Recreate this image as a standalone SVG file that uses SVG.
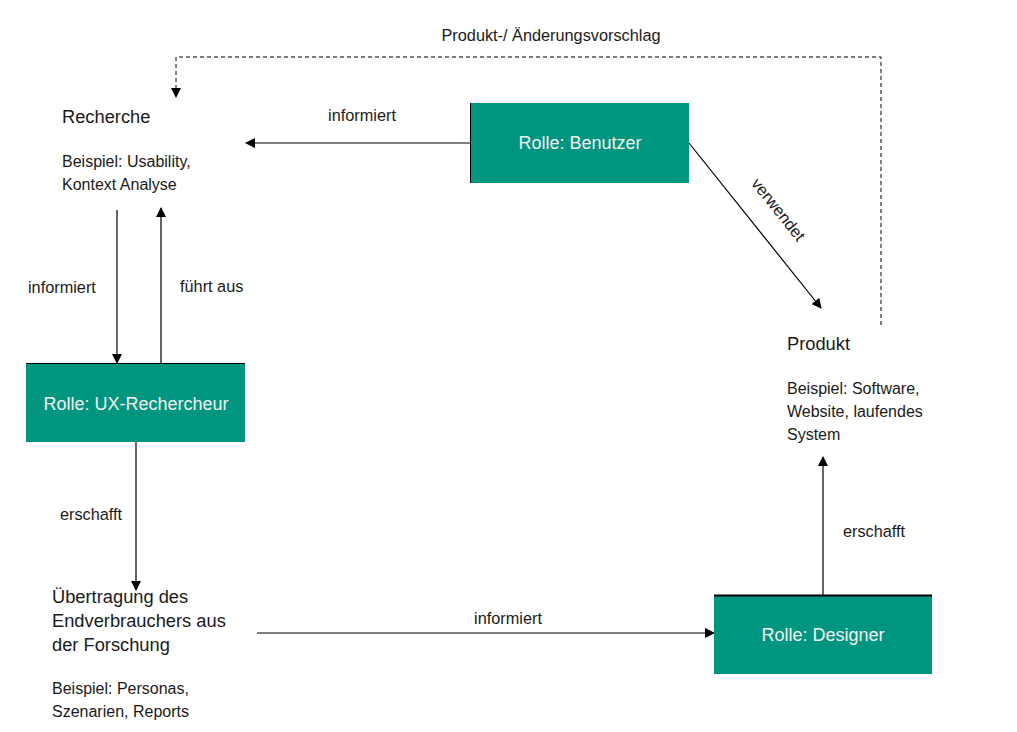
<svg xmlns="http://www.w3.org/2000/svg" width="1017" height="732" viewBox="0 0 1017 732">
<style>
text{font-family:"Liberation Sans",Arial,sans-serif;fill:#1a1a1a}
.t{font-size:18.3px}
.s{font-size:16px}
.l{font-size:16.3px}
.box{fill:#00957f}
.bt{font-size:18px;fill:#f2f2f2;text-anchor:middle}
.c{stroke:#000;stroke-width:1.2;fill:none}
.d{stroke:#000;stroke-width:1;fill:none;stroke-dasharray:4 3}
</style>
<defs>
<marker id="a" viewBox="0 0 10 10" refX="9" refY="5" markerWidth="10" markerHeight="10" markerUnits="userSpaceOnUse" orient="auto">
<path d="M0,0 L10,5 L0,10 Z" fill="#000"/>
</marker>
</defs>
<rect width="1017" height="732" fill="#fff"/>
<g id="connectors">
<path class="d" d="M881,325 V57 H176 V97" marker-end="url(#a)"/>
<text class="l" x="551" y="41" text-anchor="middle">Produkt-/ Änderungsvorschlag</text>
<path class="c" d="M470,143 H246" marker-end="url(#a)"/>
<text class="l" x="362" y="121" text-anchor="middle">informiert</text>
<path class="c" d="M689,143 L821,308" marker-end="url(#a)"/>
<text class="l" x="0" y="0" text-anchor="middle" transform="translate(774,213) rotate(51.3)">verwendet</text>
<path class="c" d="M117,210 V363" marker-end="url(#a)"/>
<text class="l" x="28" y="293">informiert</text>
<path class="c" d="M161,363 V208" marker-end="url(#a)"/>
<text class="l" x="180" y="292">führt aus</text>
<path class="c" d="M136,442 V590" marker-end="url(#a)"/>
<text class="l" x="60" y="520">erschafft</text>
<path class="c" d="M257,633 H714" marker-end="url(#a)"/>
<text class="l" x="508" y="624" text-anchor="middle">informiert</text>
<path class="c" d="M823,595 V457" marker-end="url(#a)"/>
<text class="l" x="843" y="537">erschafft</text>
</g>
<g id="recherche">
<text class="t" x="62" y="123">Recherche</text>
<text class="s" x="62" y="167">Beispiel: Usability,</text>
<text class="s" x="62" y="190">Kontext Analyse</text>
</g>
<g id="benutzer">
<rect class="box" x="470" y="103" width="219" height="80"/>
<line x1="470.5" y1="103" x2="470.5" y2="183" stroke="#000" stroke-width="1"/>
<text class="bt" x="580" y="149">Rolle: Benutzer</text>
</g>
<g id="rechercheur">
<rect class="box" x="26" y="363" width="219" height="79"/>
<line x1="26" y1="363.5" x2="245" y2="363.5" stroke="#000" stroke-width="1.2"/>
<text class="bt" x="136" y="410">Rolle: UX-Rechercheur</text>
</g>
<g id="uebertragung">
<text class="t" x="52" y="603">Übertragung des</text>
<text class="t" x="52" y="627">Endverbrauchers aus</text>
<text class="t" x="52" y="651">der Forschung</text>
<text class="s" x="52" y="694">Beispiel: Personas,</text>
<text class="s" x="52" y="717">Szenarien, Reports</text>
</g>
<g id="designer">
<rect class="box" x="714" y="595" width="218" height="79"/>
<line x1="714" y1="595.5" x2="932" y2="595.5" stroke="#000" stroke-width="2"/>
<text class="bt" x="823" y="641">Rolle: Designer</text>
</g>
<g id="produkt">
<text class="t" x="787" y="350">Produkt</text>
<text class="s" x="787" y="394">Beispiel: Software,</text>
<text class="s" x="787" y="417">Website, laufendes</text>
<text class="s" x="787" y="440">System</text>
</g>
</svg>
